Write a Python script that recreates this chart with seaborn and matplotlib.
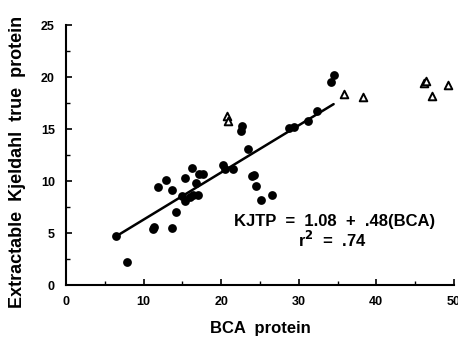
import pandas as pd
import matplotlib.pyplot as plt
import seaborn as sns

# values
bca_fit = [6.5, 7.9, 11.2, 11.4, 11.9, 12.9, 13.7, 13.7, 14.2, 15.0, 15.4, 15.4,
           16.2, 16.0, 16.4, 16.8, 17.0, 17.2, 17.6, 20.2, 20.5, 21.5, 22.6, 22.7,
           23.4, 24.0, 24.3, 24.5, 25.1, 26.6, 28.8, 29.4, 31.2, 32.4, 34.1, 34.5]
kjtp_fit = [4.7, 2.2, 5.4, 5.6, 9.4, 10.1, 9.1, 5.5, 7.0, 8.6, 10.3, 8.1,
            11.3, 8.5, 8.7, 9.8, 8.7, 10.7, 10.7, 11.5, 11.2, 11.2, 14.8, 15.3,
            13.1, 10.5, 10.6, 9.5, 8.2, 8.7, 15.1, 15.2, 15.8, 16.7, 19.5, 20.2]

bca_out = [20.7, 20.9, 35.9, 38.3, 46.1, 46.4, 47.2, 49.2]
kjtp_out = [16.3, 15.8, 18.4, 18.1, 19.4, 19.6, 18.2, 19.2]

line_x = [6.5, 34.5]
line_y = [4.7, 17.4]

sns.set_style("ticks", {"axes.edgecolor": "black", "text.color": "black",
                        "xtick.color": "black", "ytick.color": "black",
                        "axes.labelcolor": "black"})
plt.rcParams['font.family'] = ['Liberation Sans', 'DejaVu Sans']
plt.rcParams['font.weight'] = 'bold'

fig = plt.figure(figsize=(4.58, 3.44), dpi=100)
ax = fig.add_axes([0.144, 0.1715, 0.847, 0.7555])

df_fit = pd.DataFrame({"BCA": bca_fit, "KJTP": kjtp_fit})
df_out = pd.DataFrame({"BCA": bca_out, "KJTP": kjtp_out})

sns.lineplot(x=line_x, y=line_y, color="black", linewidth=1.8, ax=ax)
sns.scatterplot(data=df_fit, x="BCA", y="KJTP", marker="o", s=40,
                color="black", edgecolor="black", linewidth=0, ax=ax)
sns.scatterplot(data=df_out, x="BCA", y="KJTP", marker="^", s=30,
                facecolor="white", edgecolor="black", linewidth=1.4, ax=ax)

ax.set_xlim(0, 50)
ax.set_ylim(0, 25)
ax.set_xticks(range(0, 51, 10))
ax.set_yticks(range(0, 26, 5))
ax.set_xticks(range(5, 50, 10), minor=True)
ax.set_yticks([2.5, 7.5, 12.5, 17.5, 22.5], minor=True)
ax.tick_params(direction="in", length=4, width=1.2, labelsize=9, pad=8)
ax.tick_params(which="minor", direction="in", length=3, width=1.0)
for lab in ax.get_xticklabels() + ax.get_yticklabels():
    lab.set_fontweight("bold")
sns.despine(ax=ax)
ax.spines["left"].set_linewidth(1.5)
ax.spines["bottom"].set_linewidth(1.5)

ax.set_xlabel("BCA  protein", fontsize=12, fontweight="bold", labelpad=9)
ax.set_ylabel("Extractable  Kjeldahl  true  protein", fontsize=13,
              fontweight="bold")
ax.yaxis.set_label_coords(-0.103, 0.475)

ax.text(34.6, 6.1, "KJTP  =  1.08  +  .48(BCA)", ha="center", va="center",
        fontsize=12, fontweight="bold")
ax.text(34.3, 4.3, "r$^{2}$  =  .74", ha="center", va="center",
        fontsize=12, fontweight="bold")

fig.savefig("out.png", dpi=100)
